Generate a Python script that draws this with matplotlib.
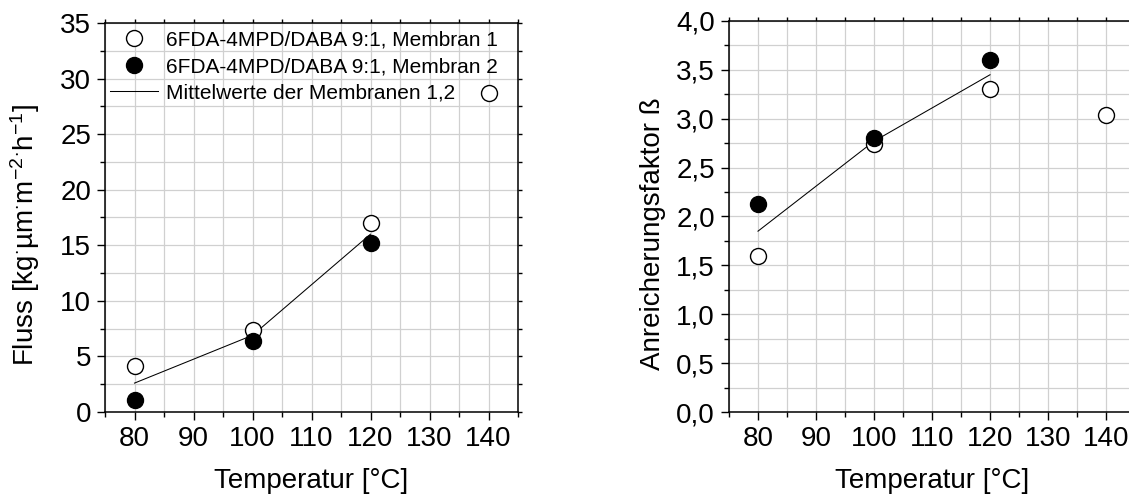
import matplotlib
matplotlib.use("Agg")
import matplotlib.pyplot as plt
from matplotlib.lines import Line2D
from matplotlib.ticker import MultipleLocator

plt.rcParams['font.family'] = ['Liberation Sans', 'DejaVu Sans']
plt.rcParams['mathtext.fontset'] = 'custom'
plt.rcParams['mathtext.rm'] = 'Liberation Sans'
plt.rcParams['mathtext.it'] = 'Liberation Sans:italic'
plt.rcParams['mathtext.bf'] = 'Liberation Sans:bold'

# temperatures [°C]
temp_m1 = [80, 100, 120, 140]
temp_m2 = [80, 100, 120]
temp_mean = [80, 100, 120]

# flux [kg·µm·m^-2·h^-1]
flux_m1 = [4.1, 7.4, 17.0, 28.7]
flux_m2 = [1.1, 6.4, 15.2]
flux_mean = [2.6, 6.9, 16.0]

# enrichment factor beta
beta_m1 = [1.6, 2.74, 3.3, 3.04]
beta_m2 = [2.13, 2.8, 3.6]
beta_mean = [1.85, 2.77, 3.45]

x_ticks = [80, 90, 100, 110, 120, 130, 140]
flux_ticks = [0, 5, 10, 15, 20, 25, 30, 35]
beta_ticks = [0.0, 0.5, 1.0, 1.5, 2.0, 2.5, 3.0, 3.5, 4.0]
beta_ticklabels = ['0,0', '0,5', '1,0', '1,5', '2,0', '2,5', '3,0', '3,5', '4,0']

legend_labels = ['6FDA-4MPD/DABA 9:1, Membran 1',
                 '6FDA-4MPD/DABA 9:1, Membran 2',
                 'Mittelwerte der Membranen 1,2']

fig = plt.figure(figsize=(11.29, 4.99), dpi=100)
ax1 = fig.add_axes([105 / 1129, 87 / 499, 413 / 1129, 389 / 499])
ax2 = fig.add_axes([729 / 1129, 87 / 499, 406 / 1129, 391 / 499])

ms = 11.5
grid_col = '#d0d0d0'


def style_axis(ax, ymax, yminor):
    ax.set_xlim(75, 145)
    ax.set_ylim(0, ymax)
    ax.xaxis.set_minor_locator(MultipleLocator(5))
    ax.yaxis.set_minor_locator(MultipleLocator(yminor))
    ax.grid(True, which='both', color=grid_col, linewidth=0.9)
    ax.set_axisbelow(True)
    ax.tick_params(which='both', direction='out', width=1.0)
    ax.tick_params(which='major', length=6, labelsize=20, pad=4)
    ax.tick_params(which='minor', length=3.5)
    ax.tick_params(which='both', top=True, right=True,
                   labeltop=False, labelright=False)
    for s in ax.spines.values():
        s.set_linewidth(1.1)
    ax.set_xlabel('Temperatur [°C]', fontsize=20)
    ax.xaxis.set_label_coords(0.5, -0.143)


def draw(ax, y1, y2, ym):
    ax.plot(temp_mean, ym, color='black', linewidth=0.75, zorder=3)
    ax.plot(temp_m1, y1, linestyle='none', marker='o', ms=ms,
            markerfacecolor='white', markeredgecolor='black',
            markeredgewidth=1.0, zorder=4)
    ax.plot(temp_m2, y2, linestyle='none', marker='o', ms=ms,
            markerfacecolor='black', markeredgecolor='black',
            markeredgewidth=1.0, zorder=5)


# left panel: flux
draw(ax1, flux_m1, flux_m2, flux_mean)
style_axis(ax1, 35, 2.5)
ax1.set_xticks(x_ticks)
ax1.set_yticks(flux_ticks)
ax1.set_ylabel(r'Fluss [kg$^{\cdot}$µm$^{\cdot}$m$^{-2}$$^{\cdot}$h$^{-1}$]',
               fontsize=20)
ax1.yaxis.set_label_coords(-0.153, 0.455)

handles = [
    Line2D([], [], linestyle='none', marker='o', ms=ms, markerfacecolor='white',
           markeredgecolor='black', markeredgewidth=1.0),
    Line2D([], [], linestyle='none', marker='o', ms=ms, markerfacecolor='black',
           markeredgecolor='black', markeredgewidth=1.0),
    Line2D([], [], color='black', linewidth=0.75),
]
ax1.legend(handles, legend_labels, loc='upper left', frameon=False,
           bbox_to_anchor=(0.012, 0.98), borderaxespad=0, borderpad=0,
           fontsize=15, handlelength=2.3, handletextpad=0.4,
           labelspacing=0.36)

# right panel: enrichment factor
draw(ax2, beta_m1, beta_m2, beta_mean)
style_axis(ax2, 4.0, 0.25)
ax2.set_xticks(x_ticks)
ax2.set_yticks(beta_ticks)
ax2.set_yticklabels(beta_ticklabels)
ax2.set_ylabel('Anreicherungsfaktor ß', fontsize=20)
ax2.yaxis.set_label_coords(-0.155, 0.455)

# mirror ticks on top and right are shorter
for ax in (ax1, ax2):
    for t in ax.xaxis.get_major_ticks() + ax.xaxis.get_minor_ticks():
        t.tick2line.set_markersize(3)
    for t in ax.yaxis.get_major_ticks() + ax.yaxis.get_minor_ticks():
        t.tick2line.set_markersize(3)

fig.savefig('out.png', dpi=100)
